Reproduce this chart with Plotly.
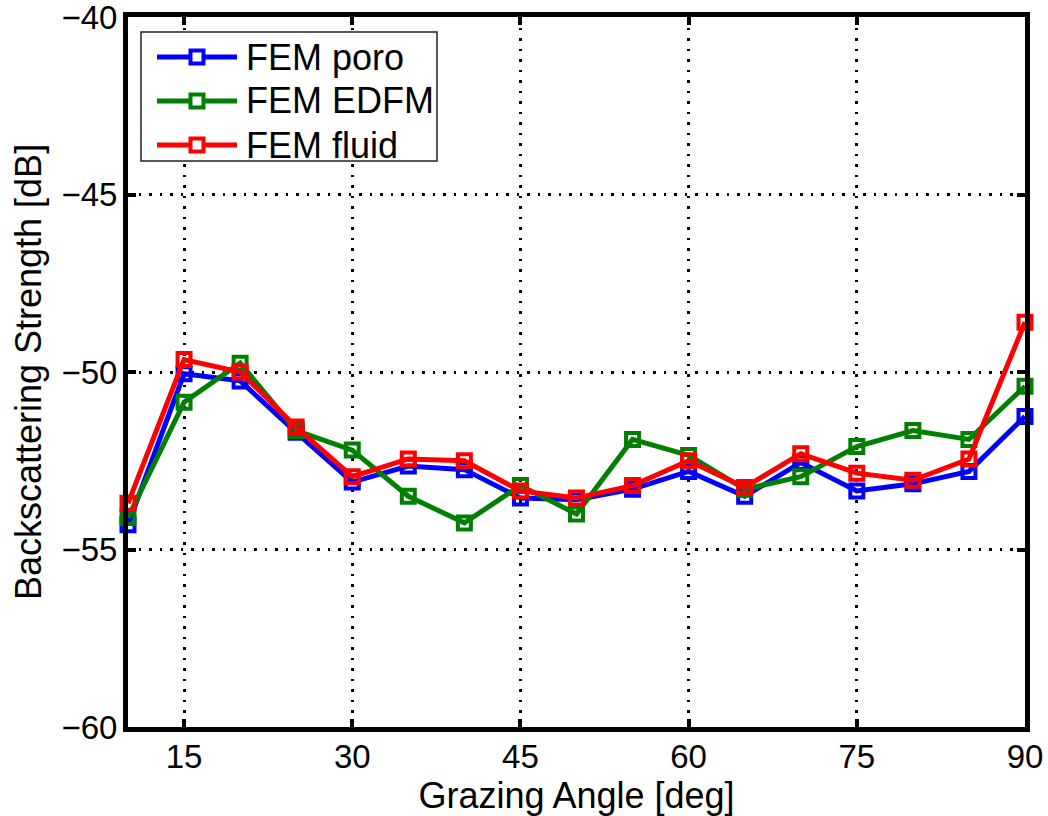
import plotly.graph_objects as go

# Grazing angles (deg) and backscattering strength (dB) for each model
angles = [10, 15, 20, 25, 30, 35, 40, 45, 50, 55, 60, 65, 70, 75, 80, 85, 90]
fem_poro = [-54.3, -50.05, -50.25, -51.7, -53.1, -52.65, -52.75, -53.55, -53.6,
            -53.3, -52.8, -53.5, -52.55, -53.35, -53.15, -52.8, -51.25]
fem_edfm = [-54.1, -50.85, -49.75, -51.65, -52.2, -53.5, -54.25, -53.2, -54.0,
            -51.9, -52.35, -53.3, -52.95, -52.1, -51.65, -51.9, -50.4]
fem_fluid = [-53.7, -49.65, -50.0, -51.55, -52.95, -52.45, -52.5, -53.35, -53.55,
             -53.2, -52.5, -53.25, -52.3, -52.85, -53.05, -52.45, -48.6]

x_ticks = [15, 30, 45, 60, 75, 90]
y_ticks = [-60, -55, -50, -45, -40]

series_names = ["FEM poro", "FEM EDFM", "FEM fluid"]
series_values = [fem_poro, fem_edfm, fem_fluid]
series_colors = ["#0000ff", "#008000", "#ff0000"]

FONT = "Liberation Sans, Arial, Helvetica, sans-serif"
TICK_SIZE = 33
LABEL_SIZE = 36
W, H = 1048, 816
M_L, M_R, M_T, M_B = 128, 23, 17, 89

fig = go.Figure()
for name, vals, col in zip(series_names, series_values, series_colors):
    fig.add_trace(go.Scatter(
        x=angles, y=vals, name=name, mode="lines+markers",
        line=dict(color=col, width=5),
        marker=dict(symbol="square-open", size=13, color=col,
                    line=dict(color=col, width=4)),
        cliponaxis=False, showlegend=False,
    ))

axis_common = dict(
    showline=True, linecolor="black", linewidth=5, mirror="ticks",
    ticks="inside", ticklen=8, tickwidth=4, tickcolor="black",
    showgrid=True, gridcolor="black", gridwidth=2.5, griddash="2.5px,8px",
    zeroline=False, automargin=False, ticklabeloverflow="allow",
    tickfont=dict(size=TICK_SIZE, color="black", family=FONT),
)

fig.update_xaxes(
    range=[10, 90], tickvals=x_ticks, ticktext=[str(t) for t in x_ticks],
    ticklabelstandoff=-4,
    title=dict(text="Grazing Angle [deg]",
               font=dict(size=LABEL_SIZE, color="black", family=FONT), standoff=2),
    **axis_common,
)
fig.update_yaxes(
    range=[-60, -40], tickvals=y_ticks,
    ticklabelstandoff=-1,
    title=dict(text="Backscattering Strength [dB]",
               font=dict(size=LABEL_SIZE, color="black", family=FONT), standoff=10),
    **axis_common,
)

# Legend box drawn in paper space (pixel positions converted to paper fractions)
plot_w = W - M_L - M_R
plot_h = H - M_T - M_B


def px_x(p):
    return (p - M_L) / plot_w


def px_y(p):
    return (H - M_B - p) / plot_h


shapes = [dict(type="rect", xref="paper", yref="paper",
               x0=px_x(141), x1=px_x(437), y0=px_y(161), y1=px_y(32),
               line=dict(color="#222222", width=1.5), fillcolor="white", layer="above")]
annotations = []
row_y = [57, 101, 145]
for name, col, ry in zip(series_names, series_colors, row_y):
    shapes.append(dict(type="line", xref="paper", yref="paper",
                       x0=px_x(157), x1=px_x(237), y0=px_y(ry), y1=px_y(ry),
                       line=dict(color=col, width=5), layer="above"))
    shapes.append(dict(type="rect", xref="paper", yref="paper",
                       xsizemode="pixel", ysizemode="pixel",
                       xanchor=px_x(197), yanchor=px_y(ry),
                       x0=-6.5, x1=6.5, y0=-6.5, y1=6.5,
                       line=dict(color=col, width=4), fillcolor="white", layer="above"))
    annotations.append(dict(xref="paper", yref="paper", x=px_x(244), y=px_y(ry),
                            xanchor="left", yanchor="middle", showarrow=False,
                            text=name, font=dict(size=LABEL_SIZE, color="black", family=FONT)))

fig.update_layout(
    width=W, height=H,
    margin=dict(l=M_L, r=M_R, t=M_T, b=M_B),
    paper_bgcolor="white", plot_bgcolor="white",
    font=dict(family=FONT, color="black"),
    showlegend=False,
    shapes=shapes, annotations=annotations,
)

fig.write_html("out.html")
